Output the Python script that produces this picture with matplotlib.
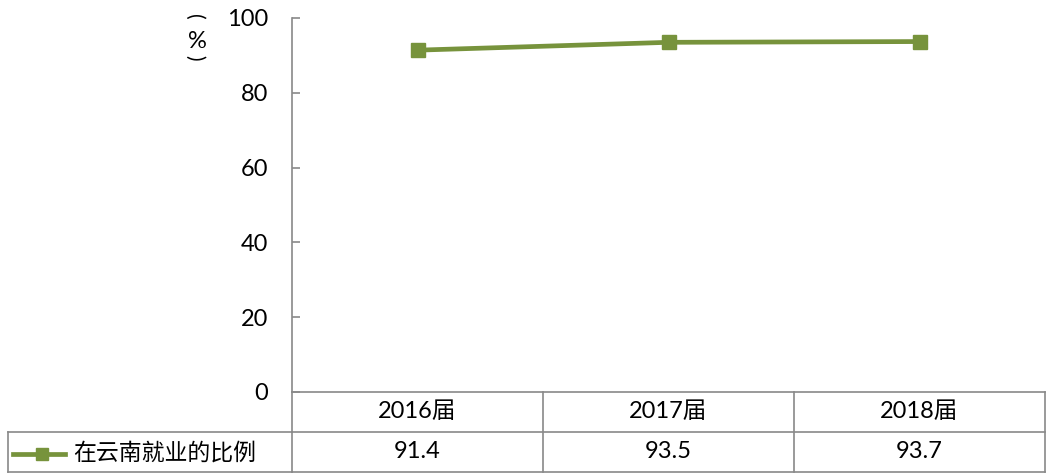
import matplotlib
matplotlib.use("Agg")
import matplotlib.pyplot as plt
from matplotlib.lines import Line2D
from matplotlib.transforms import blended_transform_factory

plt.rcParams['font.family'] = ['Lato', 'Noto Sans CJK SC', 'DejaVu Sans']

categories = ["2016届", "2017届", "2018届"]
values = [91.4, 93.5, 93.7]
series_name = "在云南就业的比例"
yticks = [0, 20, 40, 60, 80, 100]

W, H = 1046, 474
fig = plt.figure(figsize=(W / 100, H / 100), dpi=100)
L, R, T, B = 292, 1045, 18, 392
ax = fig.add_axes([L / W, (H - B) / H, (R - L) / W, (B - T) / H])

green = "#77933C"
gray = "#898989"
fs = 17

x = list(range(len(categories)))
ax.plot(x, values, color=green, lw=3.4, marker="s", markersize=9.5,
        markerfacecolor=green, markeredgecolor=green, solid_capstyle="butt")

ax.set_xlim(-0.5, len(categories) - 0.5)
ax.set_ylim(0, 100)
ax.set_yticks(yticks)
ax.set_xticks([])
ax.tick_params(axis="y", direction="in", length=6, width=1.2, color=gray,
               labelsize=fs, pad=17)
for s in ["top", "right"]:
    ax.spines[s].set_visible(False)
for s in ["left", "bottom"]:
    ax.spines[s].set_color(gray)
    ax.spines[s].set_linewidth(1.2)

# data table below the axes
tr = blended_transform_factory(ax.transData, ax.transAxes)
rh = 40 / (B - T)
lw_t = 1.2
n = len(categories)
for i in range(n + 1):
    ax.add_line(Line2D([i - 0.5, i - 0.5], [0, -2 * rh], transform=tr,
                       color=gray, lw=lw_t, clip_on=False))
ax.add_line(Line2D([-0.5, n - 0.5], [-rh, -rh], transform=tr,
                   color=gray, lw=lw_t, clip_on=False))
ax.add_line(Line2D([-0.5, n - 0.5], [-2 * rh, -2 * rh], transform=tr,
                   color=gray, lw=lw_t, clip_on=False))

def fx(px):
    return px / W
def fy(py):
    return 1 - py / H
fig.add_artist(Line2D([fx(8), fx(L)], [fy(432), fy(432)], color=gray, lw=lw_t))
fig.add_artist(Line2D([fx(8), fx(L)], [fy(472), fy(472)], color=gray, lw=lw_t))
fig.add_artist(Line2D([fx(8), fx(8)], [fy(432), fy(472)], color=gray, lw=lw_t))
fig.add_artist(Line2D([fx(13), fx(65)], [fy(454), fy(454)], color=green, lw=3.4))
fig.add_artist(Line2D([fx(42)], [fy(454)], color=green, marker="s",
                      markersize=8, markerfacecolor=green, markeredgecolor=green))
fig.text(fx(73), fy(453), series_name, fontsize=fs - 0.5, ha="left", va="center")

for i, (c, v) in enumerate(zip(categories, values)):
    ax.text(i, -rh / 2, c, transform=tr, ha="center", va="center", fontsize=fs)
    ax.text(i, -1.5 * rh, f"{v:.1f}", transform=tr, ha="center", va="center", fontsize=fs)

# vertical unit label (%) in vertical layout
fig.text(fx(194), fy(17), "(", fontsize=15, rotation=-90, rotation_mode="anchor",
         ha="center", va="center")
fig.text(fx(197), fy(41), "%", fontsize=fs, ha="center", va="center")
fig.text(fx(194), fy(58), ")", fontsize=15, rotation=-90, rotation_mode="anchor",
         ha="center", va="center")

fig.savefig("out.png", dpi=100)
